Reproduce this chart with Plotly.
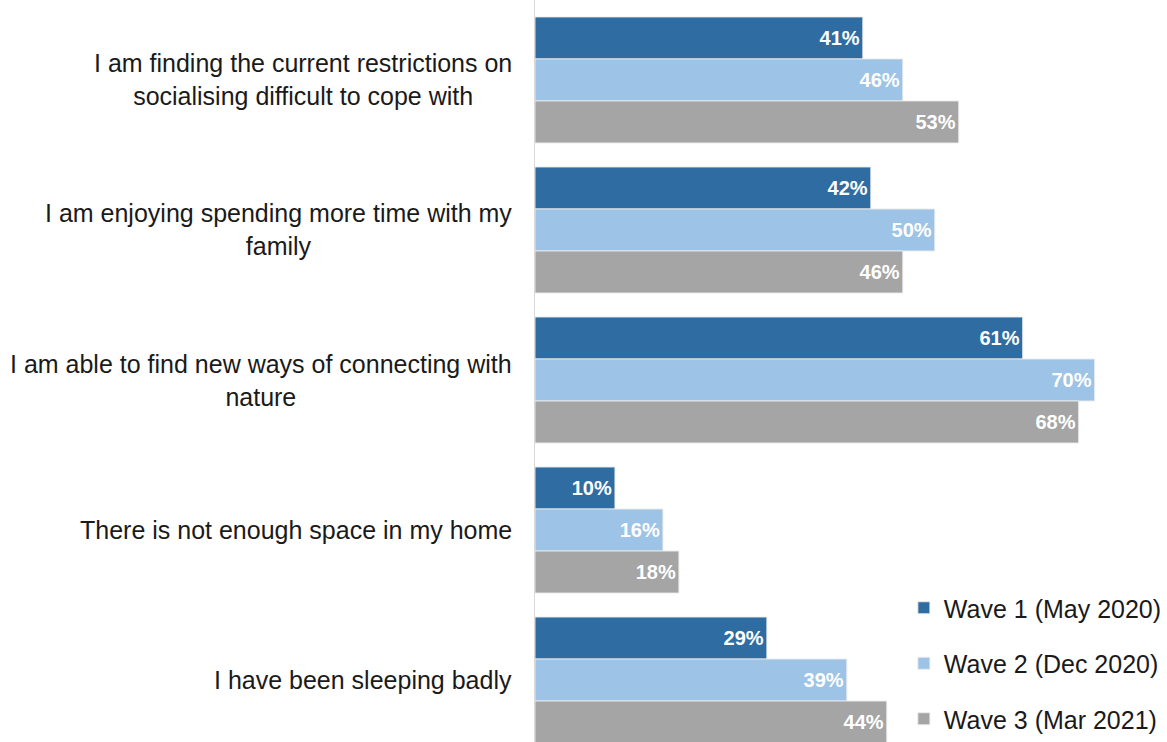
import plotly.graph_objects as go

# Survey statements (top to bottom) and share agreeing, by wave
statements = [
    "I am finding the current restrictions on<br>socialising difficult to cope with",
    "I am enjoying spending more time with my<br>family",
    "I am able to find new ways of connecting with<br>nature",
    "There is not enough space in my home",
    "I have been sleeping badly",
]
wave_names = ["Wave 1 (May 2020)", "Wave 2 (Dec 2020)", "Wave 3 (Mar 2021)"]
wave1 = [41, 42, 61, 10, 29]
wave2 = [46, 50, 70, 16, 39]
wave3 = [53, 46, 68, 18, 44]
wave_colors = ["#2E6CA1", "#9DC3E6", "#A5A5A5"]

FONT = "Liberation Sans"
cats = list(range(len(statements)))

fig = go.Figure()
for name, vals, col in zip(wave_names, [wave1, wave2, wave3], wave_colors):
    fig.add_trace(go.Bar(
        y=cats,
        x=vals,
        orientation="h",
        name=name,
        legendgroup=name,
        marker=dict(color=col, line=dict(color="rgba(235,235,235,0.9)", width=1)),
        text=[f"{v}%" for v in vals],
        textposition="inside",
        insidetextanchor="end",
        textfont=dict(color="white", size=20, family=FONT, weight="bold"),
    ))

# Category labels to the left of the bars, lines centred within each block
for c, s in zip(cats, statements):
    fig.add_annotation(
        x=0, xref="paper", xanchor="right", xshift=-21,
        y=c, yref="y", yanchor="middle",
        text=s, align="center", showarrow=False,
        font=dict(size=25, color="#1a1a1a", family=FONT),
    )

fig.update_layout(
    width=1167, height=742,
    margin=dict(l=535, r=0, t=0, b=0),
    paper_bgcolor="white", plot_bgcolor="white",
    barmode="group", bargap=0.16, bargroupgap=0,
    xaxis=dict(range=[0, 78.8], visible=False, fixedrange=True),
    yaxis=dict(
        range=[4.413, -0.533], showticklabels=False, showgrid=False,
        zeroline=False, showline=True, linecolor="#d9d9d9", linewidth=1, ticks="",
    ),
    legend=dict(
        x=0.5855, xanchor="left", y=0.0, yanchor="bottom",
        traceorder="grouped", tracegroupgap=20,
        font=dict(size=25, color="#1a1a1a", family=FONT),
        bgcolor="rgba(0,0,0,0)", itemwidth=30,
    ),
    showlegend=True,
)

fig.write_html("out.html")
